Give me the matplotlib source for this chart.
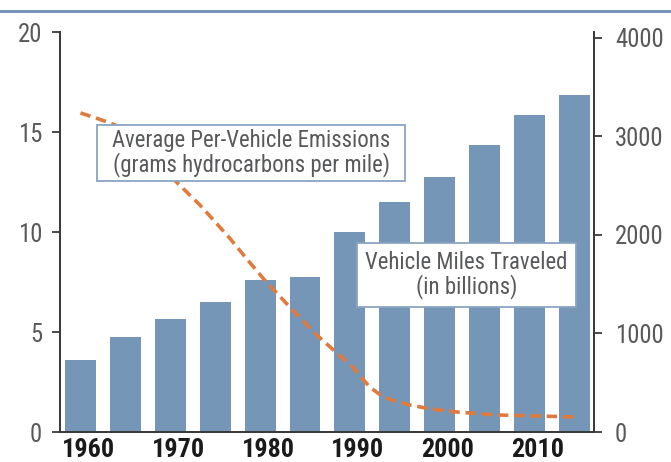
import matplotlib
matplotlib.use("Agg")
import matplotlib.pyplot as plt
from matplotlib.patches import Rectangle
from matplotlib.lines import Line2D
import matplotlib.transforms as mtransforms
from matplotlib import font_manager as fm

# ---- data ----
bar_years = [1960, 1965, 1970, 1975, 1980, 1985, 1990, 1995, 2000, 2005, 2010, 2015]
vmt_billions = [730, 965, 1145, 1320, 1545, 1575, 2030, 2335, 2590, 2915, 3220, 3420]

emis_years = [1960.0, 1961.4, 1963.3, 1964.1, 1965.0, 1967.5, 1970.0, 1973.3, 1976.6,
              1978.9, 1980.5, 1983.3, 1986.3, 1990.3, 1992.2, 1993.7, 1995.0, 1996.7,
              1999.0, 2001.9, 2006.4, 2015.4]
emissions = [15.95, 15.75, 15.45, 15.3, 15.05, 14.0, 12.8, 11.35, 9.7,
             8.45, 7.6, 6.25, 4.85, 3.25, 2.25, 1.75, 1.55, 1.35,
             1.15, 1.0, 0.85, 0.75]

xtick_years = [1960, 1970, 1980, 1990, 2000, 2010]
xtick_labels = ["1960", "1970", "1980", "1990", "2000", "2010"]
left_ticks = [0, 5, 10, 15, 20]
right_ticks = [0, 1000, 2000, 3000, 4000]

label_emis = "Average Per-Vehicle Emissions\n(grams hydrocarbons per mile)"
label_vmt = "Vehicle Miles Traveled\n(in billions)"

# ---- font choice: prefer a condensed sans ----
entries = fm.fontManager.ttflist
cond = {(f.name) for f in entries if str(f.stretch) in ("condensed", "semi-condensed", "extra-condensed")}
FAM, STRETCH = "Liberation Sans", "normal"
for cand in ["Liberation Sans Narrow", "Arial Narrow", "Roboto Condensed",
             "Open Sans Condensed", "Noto Sans", "DejaVu Sans"]:
    if cand in cond:
        FAM, STRETCH = cand, "condensed"
        break
plt.rcParams["font.family"] = [FAM, "DejaVu Sans"]
plt.rcParams["font.stretch"] = STRETCH

BAR_C = "#7596b6"
LINE_C = "#df7b3e"
TXT_C = "#58595b"
AX_C = "#3a3a3a"

fig = plt.figure(figsize=(6.71, 4.62), dpi=100)
ax = fig.add_axes([60/671, 1-432/462, 534/671, 400/462])
ax2 = ax.twinx()

ax2.bar(bar_years, vmt_billions, width=3.45, color=BAR_C, zorder=1)
ax2.set_ylim(0, 4060)
ax.set_ylim(0, 20)
ax.set_xlim(1957.72, 2017.18)

ax.set_zorder(ax2.get_zorder() + 1)
ax.patch.set_visible(False)
ax.plot(emis_years, emissions, color=LINE_C, lw=2.6, dashes=(2.9, 1.6), zorder=3,
        dash_capstyle="butt")

for a in (ax, ax2):
    a.spines["top"].set_visible(False)
    for s in ("left", "right", "bottom"):
        a.spines[s].set_color(AX_C)
        a.spines[s].set_linewidth(1.3)

ax.set_yticks(left_ticks)
ax.set_yticklabels([str(t) for t in left_ticks])
ax.tick_params(axis="y", direction="out", length=6, width=1.3, color=AX_C,
               labelsize=16, labelcolor=TXT_C, pad=7)
ax2.set_yticks(right_ticks)
ax2.set_yticklabels([str(t) for t in right_ticks])
ax2.tick_params(axis="y", direction="out", length=6, width=1.3, color=AX_C,
                labelsize=16, labelcolor=TXT_C, pad=9)

ax.set_xticks(xtick_years)
ax.set_xticklabels(xtick_labels, fontsize=17, fontweight="bold", color="#1a1a1a")
ax.tick_params(axis="x", length=0, pad=4)
ax2.tick_params(axis="x", length=0)
offset = mtransforms.ScaledTranslation(8/100, 0, fig.dpi_scale_trans)
for lab in ax.get_xticklabels():
    lab.set_transform(lab.get_transform() + offset)

def box(x0, y0, x1, y1, text, cx, cy):
    r = Rectangle((x0, y0), x1 - x0, y1 - y0, transform=ax.transAxes,
                  facecolor="white", edgecolor="#8aa5c1", lw=1.3, zorder=5)
    ax.add_patch(r)
    return ax.text(cx, cy, text, transform=ax.transAxes, ha="center", va="center",
                   fontsize=15, color=TXT_C, linespacing=1.05, zorder=6)

t1 = box(0.0693, 0.6275, 0.646, 0.7675, label_emis, 0.358, 0.6975)
t2 = box(0.556, 0.3125, 0.966, 0.4725, label_vmt, 0.761, 0.3925)

fig.add_artist(Line2D([0, 1], [1 - 10.5/462, 1 - 10.5/462], transform=fig.transFigure,
                      color="#6f90b2", lw=2.0))

# ---- fit text sizes to the reference's measured widths (pixels) ----
fig.canvas.draw()
r = fig.canvas.get_renderer()
def scale_for(t, target):
    return target / t.get_window_extent(r).width

s1 = scale_for(t1, 278)
t1.set_fontsize(t1.get_fontsize() * s1)
s2 = scale_for(t2, 203)
t2.set_fontsize(t2.get_fontsize() * s2)

rl = ax2.get_yticklabels()[-1]
sy = scale_for(rl, 49)
ysize = 16 * sy
ax.tick_params(axis="y", labelsize=ysize)
ax2.tick_params(axis="y", labelsize=ysize)

xl = ax.get_xticklabels()[0]
sx = scale_for(xl, 53)
for lab in ax.get_xticklabels():
    lab.set_fontsize(17 * sx)

fig.savefig("out.png", dpi=100)
